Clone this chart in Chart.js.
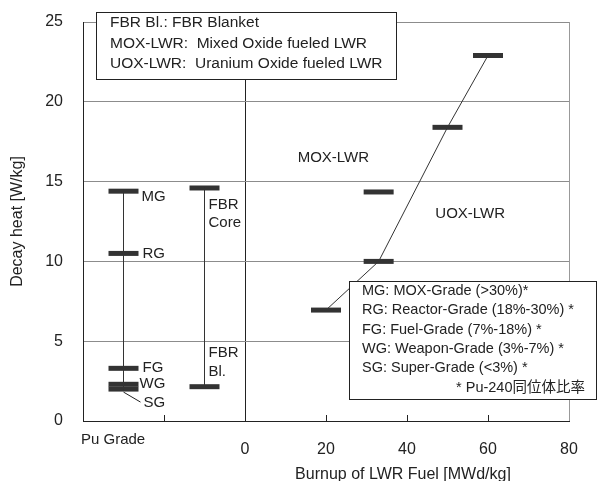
<!DOCTYPE html>
<html>
<head>
<meta charset="utf-8">
<script src="https://cdn.jsdelivr.net/npm/chart.js@4"></script>
<style>
  html, body { margin: 0; padding: 0; background: #fff; }
  #wrap { width: 598px; height: 481px; }
</style>
</head>
<body>
<div id="wrap"><canvas id="myChart"></canvas></div>
<script>
// Pu grade column (left)
const puGrades = ["MG", "RG", "FG", "WG", "SG"];
const puHeat = [14.4, 10.5, 3.3, 2.3, 2.0];
const puBurnup = -30;

// FBR core / blanket column
const fbrNames = [["FBR", "Core"], ["FBR", "Bl."]];
const fbrHeat = [14.6, 2.15];
const fbrBurnup = -10;

// LWR fuel vs burnup
const uoxBurnup = [20, 33, 50, 60];
const uoxHeat = [6.95, 10.0, 18.4, 22.9];
const moxBurnup = [33];
const moxHeat = [14.35];

const xTickLabels = [0, 20, 40, 60, 80];
const yTickLabels = [0, 5, 10, 15, 20, 25];

const legendTop = ["FBR Bl.: FBR Blanket", "MOX-LWR:  Mixed Oxide fueled LWR", "UOX-LWR:  Uranium Oxide fueled LWR"];
const legendGrade = ["MG: MOX-Grade (>30%)*", "RG: Reactor-Grade (18%-30%) *", "FG: Fuel-Grade (7%-18%) *", "WG: Weapon-Grade (3%-7%) *", "SG: Super-Grade (<3%) *"];
const gradeNote = "* Pu-240同位体比率";

const FONT = '"Liberation Sans", Arial, "Noto Sans CJK JP", sans-serif';
const INK = "#222";
const BAR = "#333";

function pts(xs, ys) {
  return ys.map(function(y, i) { return { x: Array.isArray(xs) ? xs[i] : xs, y: y }; });
}

// horizontal bars are drawn as wide "line" point markers
const barStyle = {
  showLine: false,
  pointStyle: "line",
  pointRadius: 15,
  pointHoverRadius: 15,
  pointBorderWidth: 5,
  pointBorderColor: BAR,
  borderColor: BAR,
  backgroundColor: BAR
};
const lineStyle = {
  showLine: true,
  pointRadius: 0,
  borderWidth: 1,
  borderColor: BAR,
  fill: false
};

const textPlugin = {
  id: "texts",
  afterDraw: function(chart) {
    const ctx = chart.ctx;
    const xs = chart.scales.x, ys = chart.scales.y;
    const area = chart.chartArea;
    ctx.save();
    ctx.fillStyle = INK;
    ctx.strokeStyle = INK;

    // small inward ticks on bottom axis
    ctx.lineWidth = 1;
    [-20, 20, 40, 60].forEach(function(v) {
      const x = Math.round(xs.getPixelForValue(v)) + 0.5;
      ctx.beginPath();
      ctx.moveTo(x, area.bottom);
      ctx.lineTo(x, area.bottom - 6);
      ctx.stroke();
    });

    // Pu grade labels
    ctx.font = "15px " + FONT;
    ctx.textBaseline = "middle";
    ctx.textAlign = "left";
    const px = xs.getPixelForValue(puBurnup);
    puGrades.forEach(function(g, i) {
      let y = ys.getPixelForValue(puHeat[i]);
      let x = px + 19;
      if (g === "MG") { y += 6; x = px + 18; }
      if (g === "WG") { x = px + 16; }
      if (g === "SG") {
        ctx.beginPath();
        ctx.moveTo(px, y + 3);
        ctx.lineTo(px + 17, y + 13);
        ctx.stroke();
        x = px + 20; y += 14;
      }
      ctx.fillText(g, x, y);
    });

    // FBR labels
    const fx = xs.getPixelForValue(fbrBurnup) + 4;
    const coreY = ys.getPixelForValue(fbrHeat[0]);
    ctx.fillText(fbrNames[0][0], fx, coreY + 17);
    ctx.fillText(fbrNames[0][1], fx, coreY + 35);
    const blY = ys.getPixelForValue(fbrHeat[1]);
    ctx.fillText(fbrNames[1][0], fx, blY - 34);
    ctx.fillText(fbrNames[1][1], fx, blY - 15);

    // region labels
    ctx.fillText("MOX-LWR", xs.getPixelForValue(13), ys.getPixelForValue(16.5));
    ctx.fillText("UOX-LWR", xs.getPixelForValue(47), ys.getPixelForValue(13));

    // Pu Grade under left part of axis
    ctx.textBaseline = "alphabetic";
    ctx.fillText("Pu Grade", 81, 444);

    // x axis title
    ctx.font = "16px " + FONT;
    ctx.textAlign = "center";
    ctx.fillText("Burnup of LWR Fuel [MWd/kg]", 403, 479);

    // top legend box
    ctx.fillStyle = "#fff";
    ctx.fillRect(96.5, 12.5, 300, 67);
    ctx.strokeRect(96.5, 12.5, 300, 67);
    ctx.fillStyle = INK;
    ctx.font = "15.5px " + FONT;
    ctx.textAlign = "left";
    legendTop.forEach(function(t, i) { ctx.fillText(t, 110, 27 + i * 20.5); });

    // grade legend box
    ctx.fillStyle = "#fff";
    ctx.fillRect(349.5, 281.5, 247, 118);
    ctx.strokeRect(349.5, 281.5, 247, 118);
    ctx.fillStyle = INK;
    ctx.font = "14.5px " + FONT;
    legendGrade.forEach(function(t, i) { ctx.fillText(t, 362, 295 + i * 19.3); });
    ctx.textAlign = "right";
    ctx.fillText(gradeNote, 585, 391.5);

    ctx.restore();
  }
};

const ctx = document.getElementById("myChart").getContext("2d");
new Chart(ctx, {
  type: "scatter",
  data: {
    datasets: [
      Object.assign({ data: [{ x: puBurnup, y: Math.max.apply(null, puHeat) }, { x: puBurnup, y: Math.min.apply(null, puHeat) }] }, lineStyle),
      Object.assign({ data: [{ x: fbrBurnup, y: fbrHeat[0] }, { x: fbrBurnup, y: fbrHeat[1] }] }, lineStyle),
      Object.assign({ data: pts(uoxBurnup, uoxHeat) }, lineStyle),
      Object.assign({ data: pts(puBurnup, puHeat) }, barStyle),
      Object.assign({ data: pts(fbrBurnup, fbrHeat) }, barStyle),
      Object.assign({ data: pts(uoxBurnup, uoxHeat) }, barStyle),
      Object.assign({ data: pts(moxBurnup, moxHeat) }, barStyle)
    ]
  },
  options: {
    responsive: true,
    maintainAspectRatio: false,
    animation: false,
    layout: { autoPadding: false, padding: { top: 22, right: 29, left: 0, bottom: 0 } },
    plugins: { legend: { display: false }, tooltip: { enabled: false } },
    scales: {
      x: {
        type: "linear",
        min: -40,
        max: 80,
        afterFit: function(s) { s.height = 60; s.paddingLeft = 0; s.paddingRight = 0; },
        ticks: {
          stepSize: 20,
          padding: 19,
          maxRotation: 0,
          color: INK,
          font: { size: 16, family: FONT },
          callback: function(v) { return xTickLabels.indexOf(v) >= 0 ? String(v) : ""; }
        },
        grid: {
          drawTicks: false,
          color: function(c) {
            if (!c.tick) return "rgba(0,0,0,0)";
            if (c.tick.value === 0) return "#222";
            if (c.tick.value === 80) return "#999";
            return "rgba(0,0,0,0)";
          }
        },
        border: { color: "#222", width: 1 }
      },
      y: {
        min: 0,
        max: 25,
        afterFit: function(s) { s.width = 83; s.paddingTop = 0; s.paddingBottom = 0; },
        ticks: {
          stepSize: 5,
          padding: 20,
          color: INK,
          font: { size: 16, family: FONT },
          callback: function(v) { return yTickLabels.indexOf(v) >= 0 ? String(v) : ""; }
        },
        grid: { drawTicks: false, color: "#8c8c8c" },
        border: { color: "#222", width: 1 },
        title: {
          display: true,
          text: "Decay heat [W/kg]",
          color: INK,
          font: { size: 16, family: FONT },
          padding: { top: 8, bottom: 0 }
        }
      }
    }
  },
  plugins: [textPlugin]
});
</script>
</body>
</html>
